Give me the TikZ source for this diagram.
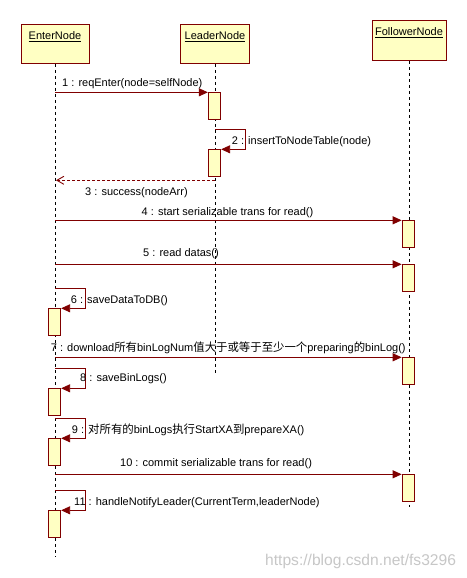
\documentclass[tikz,border=0pt]{standalone}
\usepackage{fontspec}
\setmainfont{Liberation Sans}
\newfontfamily\cjkfont{Noto Sans CJK SC}
\newcommand{\zh}[1]{{\cjkfont\fontsize{11.4}{12}\selectfont #1}}
\usetikzlibrary{arrows.meta}
\definecolor{umlred}{RGB}{128,0,0}
\definecolor{umlfill}{RGB}{255,255,195}
\begin{document}
\begin{tikzpicture}[x=1pt,y=-1pt,
  every node/.style={font=\fontsize{11}{12}\selectfont},
  actor/.style={draw=umlred,fill=umlfill,line width=0.9pt,inner xsep=2pt,inner ysep=3pt,text height=12pt,anchor=north},
  lifeline/.style={draw=black,line width=0.9pt,dash pattern=on 3pt off 3pt},
  act/.style={draw=umlred,fill=umlfill,line width=0.9pt,minimum width=12.4pt,minimum height=27pt,inner sep=0pt,anchor=north},
  msg/.style={draw=umlred,line width=0.9pt,-{Triangle[length=9pt,width=8pt]},fill=none},
  ret/.style={draw=umlred,line width=0.9pt,dash pattern=on 3pt off 2pt,-{Straight Barb[length=7pt,width=8pt]}},
  lbl/.style={anchor=base west,inner sep=0pt,text=black},
  clbl/.style={anchor=base,inner sep=0pt,text=black}]
\useasboundingbox (0,0) rectangle (466,578);
\fill[white] (0,0) rectangle (466,578);
% actors
\node[actor,minimum width=68pt,text depth=21pt] (enter) at (55,24) {\underline{EnterNode}};
\node[actor,minimum width=69pt,text depth=21pt] (leader) at (215,24) {\underline{LeaderNode}};
\node[actor,minimum width=74pt,text depth=22pt] (follower) at (409,20) {\underline{FollowerNode}};
% lifeline ends
\coordinate (enterEnd) at (55,557);
\coordinate (leaderEnd) at (215,373);
\coordinate (followerEnd) at (409,507);
\draw[lifeline] (enter) -- (enterEnd);
\draw[lifeline] (leader) -- (leaderEnd);
\draw[lifeline] (follower) -- (followerEnd);
% activations
\node[act] (a1) at (214.5,92.3) {};
\node[act] (a2) at (214.5,149.3) {};
\node[act] (a4) at (408.3,220.3) {};
\node[act] (a5) at (408.3,264.3) {};
\node[act] (a6) at (54.5,308.3) {};
\node[act] (a7) at (408.3,357.3) {};
\node[act] (a8) at (54.5,388.3) {};
\node[act] (a9) at (54.5,438.3) {};
\node[act] (a10) at (408.3,474.3) {};
\node[act] (a11) at (54.5,510.3) {};
% message start points
\coordinate (s1) at (55,92.3);
\coordinate (s2) at (215,129.3);
\coordinate (s3) at (215,180.3);
\coordinate (e3) at (56,180.3);
\coordinate (s4) at (55,220.3);
\coordinate (s5) at (55,264.3);
\coordinate (s6) at (55,288.3);
\coordinate (s7) at (55,357.3);
\coordinate (s8) at (55,368.3);
\coordinate (s9) at (55,418.3);
\coordinate (s10) at (55,474.3);
\coordinate (s11) at (55,490);
% messages
\draw[msg] (s1) -- (a1.north west);
\draw[msg] (s2) -- ++(30.3,0) |- (a2.north east);
\draw[ret] (s3) -- (e3);
\draw[msg] (s4) -- (a4.north west);
\draw[msg] (s5) -- (a5.north west);
\draw[msg] (s6) -- ++(30.7,0) |- (a6.north east);
\draw[msg] (s7) -- (a7.north west);
\draw[msg] (s8) -- ++(30.7,0) |- (a8.north east);
\draw[msg] (s9) -- ++(30.7,0) |- (a9.north east);
\draw[msg] (s10) -- (a10.north west);
\draw[msg] (s11) -- ++(30.7,0) |- (a11.north east);
% labels
\node[lbl] (l1) at (62,86.5) {1 : reqEnter(node=selfNode)};
\node[lbl] (l2) at (231.7,144) {2 : insertToNodeTable(node)};
\node[lbl] (l3) at (85,195) {3 : success(nodeArr)};
\node[clbl] (l4) at (227.5,215) {4 : start serializable trans for read()};
\node[lbl] (l5) at (143,256) {5 : read datas()};
\node[lbl] (l6) at (70.7,303) {6 : saveDataToDB()};
\node[lbl] (l7) at (50.7,351.5) {7 : download\zh{所有}binLogNum\zh{值大于或等于至少一个}preparing\zh{的}binLog()};
\node[lbl] (l8) at (80,381) {8 : saveBinLogs()};
\node[lbl] (l9) at (71.7,433) {9 : \zh{对所有的}binLogs\zh{执行}StartXA\zh{到}prepareXA()};
\node[lbl] (l10) at (120,466) {10 : commit serializable trans for read()};
\node[lbl] (l11) at (74,505) {11 : handleNotifyLeader(CurrentTerm,leaderNode)};
\node[lbl,text=black!22,font=\fontsize{15.6}{17}\selectfont] (wm) at (265,565) {https://blog.csdn.net/fs3296};
\end{tikzpicture}
\end{document}
